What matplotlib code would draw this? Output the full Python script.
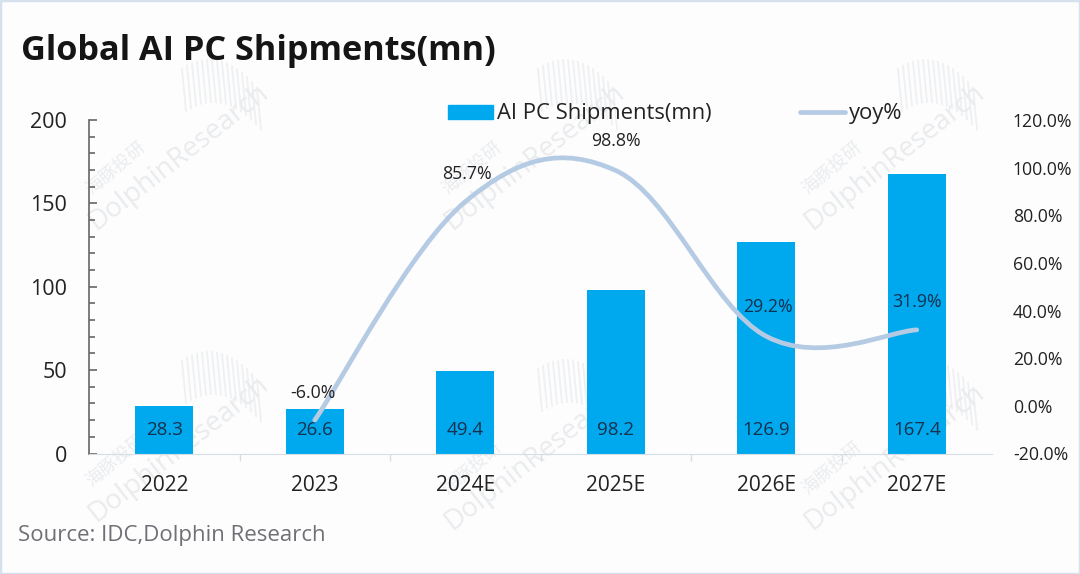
import matplotlib

matplotlib.use("Agg")
import matplotlib.pyplot as plt
import numpy as np
from matplotlib.lines import Line2D
from matplotlib.patches import PathPatch, Rectangle
from matplotlib.path import Path

plt.rcParams["font.family"] = ["Open Sans", "Noto Sans CJK SC", "DejaVu Sans"]

W, H = 1080, 574

years = ["2022", "2023", "2024E", "2025E", "2026E", "2027E"]
shipments = [28.3, 26.6, 49.4, 98.2, 126.9, 167.4]
yoy_years = [1, 2, 3, 4, 5]
yoy = [-6.0, 85.7, 98.8, 29.2, 31.9]
left_ticks = [0, 50, 100, 150, 200]
right_ticks = [-20, 0, 20, 40, 60, 80, 100, 120]

BAR = "#00a9ed"
CURVE = "#b5cbe4"
INK = "#222222"


def px(x, y):
    return x / W, 1 - y / H


def smooth_path(xs, ys, tension=0.18):
    # bezier through the points, same idea as a spreadsheet "smoothed line"
    verts = [(xs[0], ys[0])]
    codes = [Path.MOVETO]
    n = len(xs)
    for i in range(n - 1):
        p0 = i - 1 if i > 0 else i
        p3 = i + 2 if i + 2 < n else i + 1
        c1 = (xs[i] + (xs[i + 1] - xs[p0]) * tension, ys[i] + (ys[i + 1] - ys[p0]) * tension)
        c2 = (xs[i + 1] - (xs[p3] - xs[i]) * tension, ys[i + 1] - (ys[p3] - ys[i]) * tension)
        verts += [c1, c2, (xs[i + 1], ys[i + 1])]
        codes += [Path.CURVE4] * 3
    return Path(verts, codes)


def add_watermark(fig, x, y):
    # faint site stamp that repeats over the chart
    fig.text(*px(x, y), "DolphinResearch", fontsize=20, color="#e9ebed", rotation=38,
             rotation_mode="anchor", ha="left", va="bottom", zorder=0)
    fig.text(*px(x - 6, y - 38), "海豚投研", fontsize=13, color="#eaecee", rotation=40,
             rotation_mode="anchor", ha="left", va="bottom", zorder=0)
    for k, offset in enumerate(np.arange(0, 76, 5)):
        x0 = x + 82 + offset
        top = y - 178 + 0.012 * (offset - 30) ** 2 + 0.35 * k
        fig.add_artist(Line2D([x0 / W, (x0 + 4) / W], [1 - top / H, 1 - (top + 42) / H],
                              color="#eef0f2", lw=1.3, zorder=0))


fig = plt.figure(figsize=(W / 100, H / 100), dpi=100, facecolor="#fdfdfe")
fig.add_artist(Rectangle((0, 0), 1, 1, transform=fig.transFigure, fill=False,
                         edgecolor="#d5e2ee", lw=2.5, zorder=0))
for wx, wy in [(100, 236), (456, 236), (816, 236), (100, 528), (456, 536), (816, 536)]:
    add_watermark(fig, wx, wy)

ax = fig.add_axes([89 / W, 1 - 453.5 / H, (992 - 89) / W, (453.5 - 120) / H], zorder=2)
ax.patch.set_alpha(0)
x = np.arange(len(years))
ax.bar(x, shipments, width=0.385, color=BAR, zorder=2)
for xi, value in zip(x, shipments):
    ax.text(xi, 14, f"{value:.1f}", ha="center", va="center", fontsize=13.5, color="#16304d", zorder=3)

ax.set_xlim(-0.5, 5.5)
ax.set_ylim(0, 200)
ax.set_yticks(left_ticks)
ax.set_yticks(np.arange(0, 201, 10), minor=True)
ax.tick_params(axis="y", which="major", direction="in", length=6, width=1.2, color="#666666",
               labelsize=15.5, labelcolor=INK, pad=16)
ax.tick_params(axis="y", which="minor", direction="in", length=4, width=1.2, color="#666666")
ax.set_xticks(np.arange(0.5, 5.5, 1))
ax.set_xticklabels([])
ax.tick_params(axis="x", direction="out", length=5, width=1, color="#d6dde4")
for xi, label in zip(x, years):
    ax.text(xi, -19, label, ha="center", va="center", fontsize=15, color=INK)
for side in ("top", "right"):
    ax.spines[side].set_visible(False)
ax.spines["left"].set_color("#666666")
ax.spines["left"].set_linewidth(1.2)
ax.spines["bottom"].set_color("#d6dde4")

ax2 = ax.twinx()
ax2.patch.set_alpha(0)
ax2.set_ylim(-20, 120)
ax2.set_yticks(right_ticks)
ax2.set_yticklabels([f"{v:.1f}%" for v in right_ticks])
ax2.tick_params(axis="y", length=0, labelsize=12.7, labelcolor=INK, pad=15)
for side in ("top", "right", "left", "bottom"):
    ax2.spines[side].set_visible(False)
ax2.add_patch(PathPatch(smooth_path(yoy_years, yoy), fill=False, edgecolor=CURVE, lw=3.4,
                        capstyle="round", zorder=3))

for xpos, ypos, value in zip([0.99, 2.01, 3.0, 4.01, 5.0], [5.4, 97.3, 111.2, 41.5, 43.6], yoy):
    color = "#12304f" if xpos > 3.5 else INK
    ax2.text(xpos, ypos, f"{value:.1f}%", ha="center", va="center", fontsize=12.8, color=color, zorder=4)

handles = [Rectangle((0, 0), 1, 1, color=BAR), Line2D([0], [0], color=CURVE, lw=3.4, solid_capstyle="round")]
fig.legend(handles, ["AI PC Shipments(mn)", "yoy%"], ncol=2, frameon=False, fontsize=15.8,
           labelcolor=INK, loc="center left", bbox_to_anchor=px(448, 114), handlelength=2.05,
           handleheight=0.6, handletextpad=0.2, columnspacing=4.0, borderpad=0, borderaxespad=0)

fig.text(*px(21, 51), "Global AI PC Shipments(mn)", fontsize=24.7, fontweight="bold", color="#151515",
         ha="left", va="center")
fig.text(*px(18, 535), "Source: IDC,Dolphin Research", fontsize=16, color="#6f6f76", ha="left", va="center")

fig.savefig("out.png", dpi=100, facecolor=fig.get_facecolor())
plt.close(fig)
